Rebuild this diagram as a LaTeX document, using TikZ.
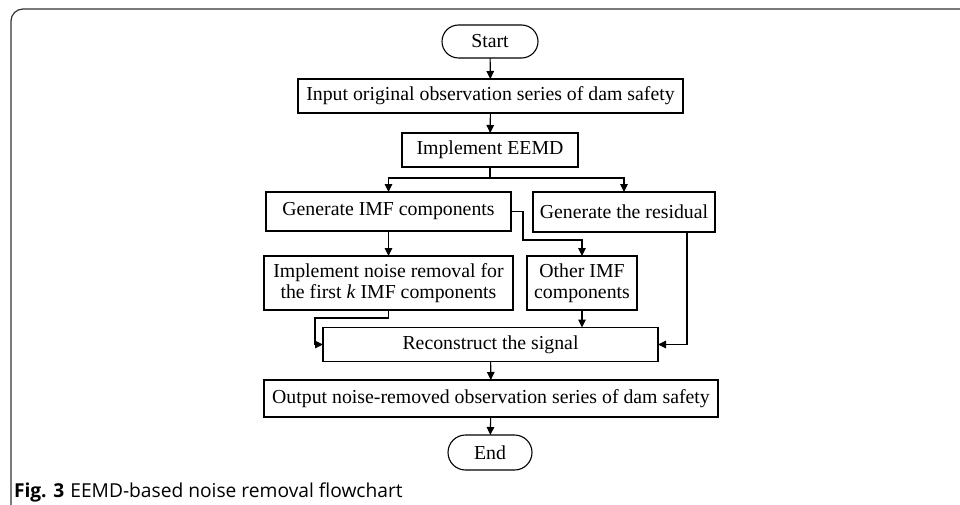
\documentclass[tikz,border=0pt]{standalone}
\usepackage{fontspec}
\setmainfont{Liberation Serif}
\newfontfamily\capfont{Open Sans}
\usetikzlibrary{arrows.meta,shapes.misc}
\begin{document}
\begin{tikzpicture}[x=1pt,y=-1pt,
  every node/.style={inner sep=0pt,outer sep=0pt,font=\fontsize{19.8}{20.5}\selectfont},
  box/.style={draw=black,line width=1.1pt,rectangle,align=center},
  term/.style={draw=black,line width=1.1pt,rounded rectangle,align=center},
  arr/.style={draw=black,line width=1.1pt,-{Triangle[length=8pt,width=7.5pt]}},
  ln/.style={draw=black,line width=1.1pt}]
\useasboundingbox (0,0) rectangle (960,505);
% frame
\draw[line width=1.2pt,draw=black!80,rounded corners=12pt] (11,530) -- (11,9) -- (980,9);
% nodes
\node[term,minimum width=96pt,minimum height=33pt] (start) at (490,41.5) {Start};
\node[box,minimum width=385pt,minimum height=34pt] (input) at (490.5,96) {Input original observation series of dam safety};
\node[box,minimum width=176pt,minimum height=34pt] (eemd) at (490,150) {Implement EEMD};
\node[box,minimum width=245pt,minimum height=39pt] (genimf) at (388.5,211.5) {Generate IMF components};
\node[box,minimum width=182pt,minimum height=40pt] (resid) at (624,212) {Generate the residual};
\node[box,minimum width=249pt,minimum height=54pt] (noise) at (388.5,283) {Implement noise removal for\\the first \textit{k} IMF components};
\node[box,minimum width=110pt,minimum height=54pt] (other) at (582,283) {Other IMF\\components};
\node[box,minimum width=335pt,minimum height=34pt] (recon) at (490.5,344.5) {Reconstruct the signal};
\node[box,minimum width=454pt,minimum height=37pt] (output) at (491,398.5) {Output noise-removed observation series of dam safety};
\node[term,minimum width=84pt,minimum height=35pt] (end) at (490,452.5) {End};
% caption
\node[anchor=west,font=\capfont\fontsize{19.2}{20}\selectfont] (cap) at (14,492) {\textbf{Fig. 3}\hspace{6pt}EEMD-based noise removal flowchart};
% helper coordinates
\coordinate (br) at (490,178);
\coordinate (j1) at (523,240);
\coordinate (j2) at (315,318);
\coordinate (j3) at (687,232);
% connectors
\draw[arr] (start) -- (input);
\draw[arr] (input) -- (eemd);
\draw[ln] (eemd.south) -- (br);
\draw[arr] (br) -| (genimf.north);
\draw[arr] (br) -| (resid.north);
\draw[arr] (genimf.east) -| (j1) -| (other.north);
\draw[arr] (genimf) -- (noise);
\draw[arr] (noise.south) |- (j2) |- (recon.west);
\draw[arr] (other.south) -- (other.south |- recon.north);
\draw[arr] (j3) |- (recon.east);
\draw[arr] (recon) -- (output);
\draw[arr] (output) -- (end);
\end{tikzpicture}
\end{document}
